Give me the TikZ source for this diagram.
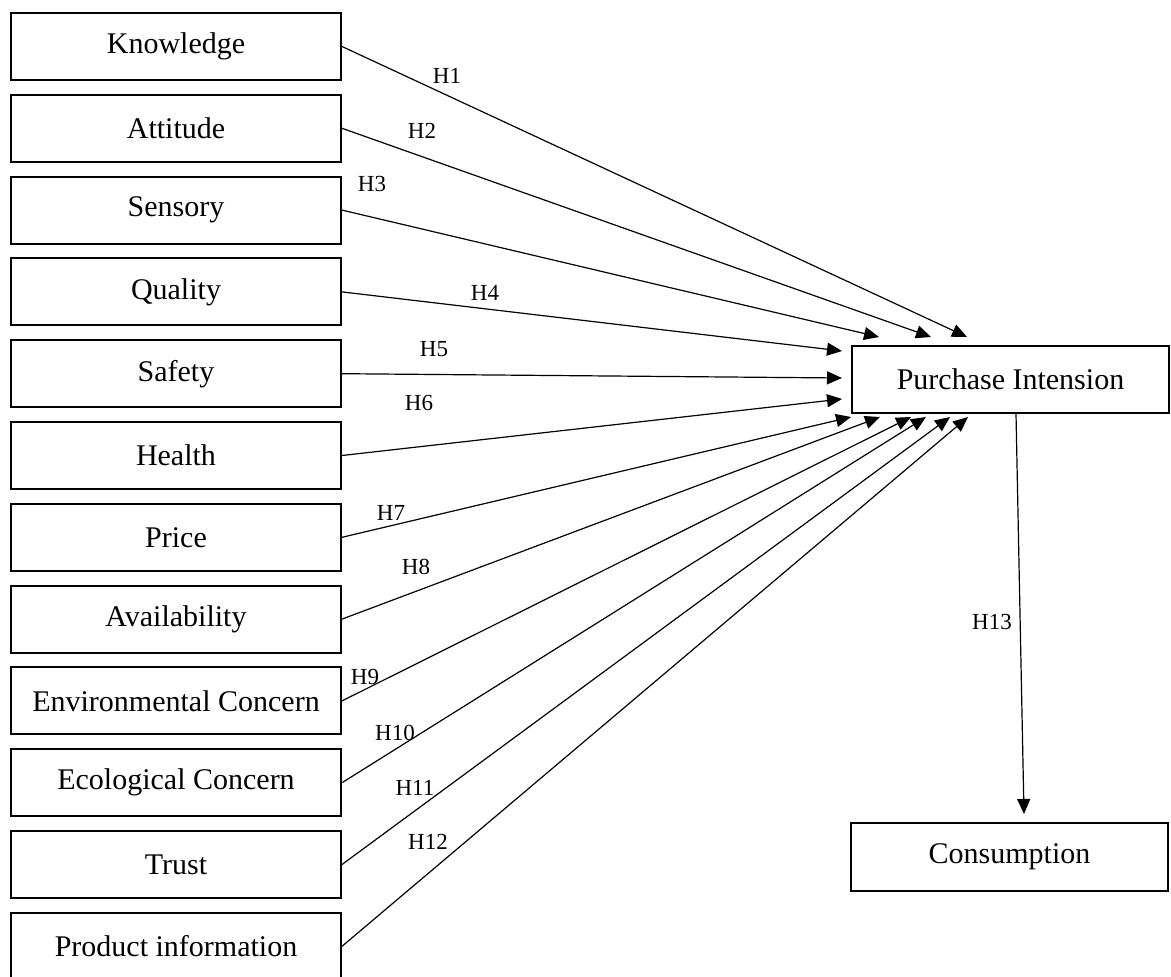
\documentclass[tikz,border=0pt]{standalone}
\usepackage{fontspec}
\setmainfont{Liberation Serif}
\usetikzlibrary{arrows.meta,positioning,calc}
\tikzset{
  >={Triangle[length=7.5pt,width=6.5pt]},
  flow/.style={->,line width=0.6pt},
  factor/.style={draw,line width=1pt,minimum width=165pt,minimum height=33.5pt,
    inner sep=0pt,font=\fontsize{15}{18}\selectfont},
  outcome/.style={factor,minimum width=158.5pt},
  hyp/.style={inner sep=1pt,font=\fontsize{11.5}{14}\selectfont}
}

\begin{document}
\begin{tikzpicture}[x=0.5pt,y=-0.5pt,node distance=6.4pt]
  \useasboundingbox (0,0) rectangle (1171,977);
  \node[factor] (kn) at (176,46.5) {Knowledge};
  \node[factor,below=of kn] (att) {Attitude};
  \node[factor,below=of att] (sens) {Sensory};
  \node[factor,below=of sens] (qual) {Quality};
  \node[factor,below=of qual] (safe) {Safety};
  \node[factor,below=of safe] (health) {Health};
  \node[factor,below=of health] (price) {Price};
  \node[factor,below=of price] (avail) {Availability};
  \node[factor,below=of avail] (env) {Environmental Concern};
  \node[factor,below=of env] (eco) {Ecological Concern};
  \node[factor,below=of eco] (trust) {Trust};
  \node[factor,below=of trust] (info) {Product information};

  \node[outcome] (intent) at (1010.5,379.5) {Purchase Intension};
  \node[outcome,minimum height=34pt] (cons) at (1009.5,857) {Consumption};

  % tips of the arrows round the purchase box
  \foreach \n/\dx/\dy in {1/116/-8,2/80/-8,3/28/-8,4/-9/6,5/-9/33,6/-9/54}
    \coordinate (t\n) at ($(intent.north west)+(\dx,\dy)$);
  \foreach \n/\dx in {7/0,8/29,9/60,10/75,11/99,12/117}
    \coordinate (t\n) at ($(intent.south west)+(\dx,3)$);
  \coordinate (t13) at ($(cons.north west)+(174,-8)$);

  \foreach \s/\n/\lx/\ly in {kn/1/447/76,att/2/422/131,sens/3/372/184,qual/4/485/293,
    safe/5/434/349,health/6/419/403,price/7/391/513,avail/8/416/567,env/9/365/677,
    eco/10/395/733,trust/11/415/788,info/12/428/842}
  {\draw[flow] (\s.east) -- (t\n);
   \node[hyp] (h\n) at (\lx,\ly) {H\n};}

  \draw[flow] ($(intent.south west)+(165,0)$) -- (t13);
  \node[hyp] (h13) at (992,622) {H13};
\end{tikzpicture}
\end{document}
